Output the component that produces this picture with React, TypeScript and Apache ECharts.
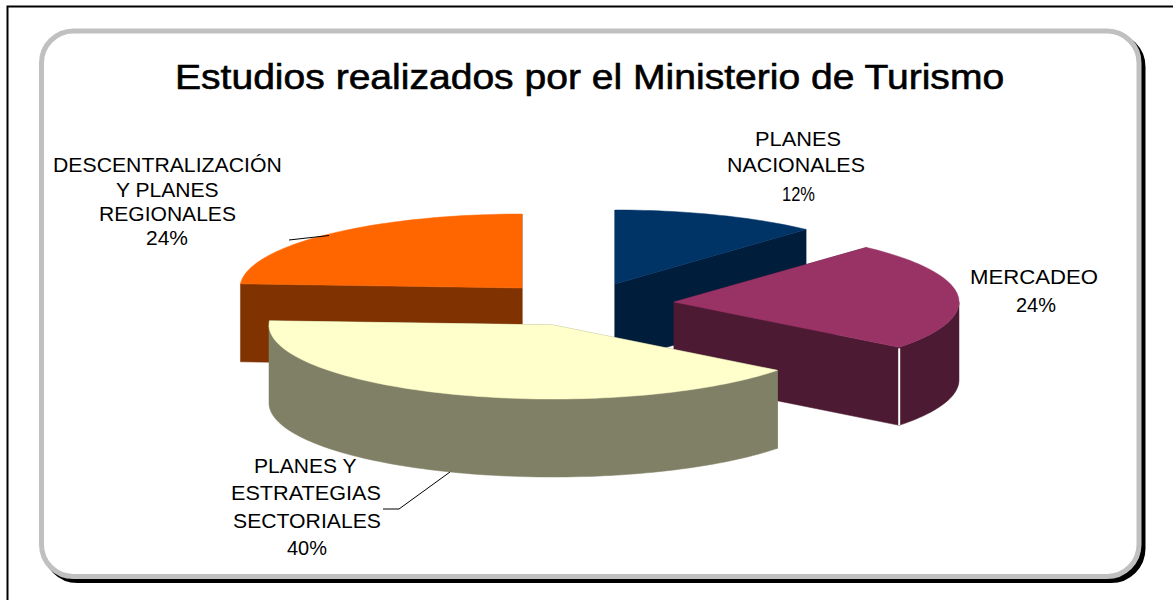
import React, { useEffect, useRef } from "react";
import * as echarts from "echarts";

const TITLE = "Estudios realizados por el Ministerio de Turismo";
const sliceNames = ["PLANES NACIONALES", "MERCADEO", "PLANES Y ESTRATEGIAS SECTORIALES", "DESCENTRALIZACIÓN Y PLANES REGIONALES"];
const sliceValues = [11.8, 23.7, 40.4, 24.1];
const topColors = ["#003366", "#993366", "#FFFFCC", "#FF6600"];
const sideColors = ["#001E3C", "#4D1A33", "#808066", "#803300"];

// exploded centre of each slice, painter's order, ellipse shape
const apexX = [615, 674, 553, 522];
const apexY = [284, 302, 325, 288];
const radiusX = [283, 285, 284, 282];
const RY = 74;
const DEPTH = 78;
const drawOrder = [0, 3, 1, 2];

const FONT = '"Liberation Sans", Arial, sans-serif';

const measurer = document.createElement("canvas").getContext("2d");

function textLine(text: string, left: number, right: number, cy: number, size: number, weight = 0) {
  measurer.font = `${size}px "Liberation Sans"`;
  const w = measurer.measureText(text).width;
  return {
    type: "text",
    x: left,
    y: cy,
    scaleX: (right - left) / w,
    silent: true,
    z: 20,
    style: {
      text,
      fill: "#000",
      stroke: weight ? "#000" : "none",
      lineWidth: weight,
      font: `${size}px ${FONT}`,
      align: "left",
      verticalAlign: "middle",
    },
  };
}

function sliceAngles(i: number) {
  const total = sliceValues.reduce((a, b) => a + b, 0);
  let before = 0;
  for (let k = 0; k < i; k++) before += sliceValues[k];
  return [(before / total) * 360, ((before + sliceValues[i]) / total) * 360];
}

function renderSlice(_params: any, api: any) {
  const i = api.value(0);
  const [a0, a1] = sliceAngles(i);
  const cx = apexX[i], cy = apexY[i], rx = radiusX[i];
  const at = (deg: number, dy = 0) => {
    const r = (deg * Math.PI) / 180;
    return [cx + rx * Math.sin(r), cy - RY * Math.cos(r) + dy];
  };
  const arc = (from: number, to: number, dy = 0) => {
    const pts: number[][] = [];
    const n = Math.max(2, Math.ceil((to - from) / 1.5));
    for (let k = 0; k <= n; k++) pts.push(at(from + ((to - from) * k) / n, dy));
    return pts;
  };
  const side = sideColors[i];
  const poly = (points: number[][], fill: string) => ({
    type: "polygon",
    shape: { points },
    style: { fill, stroke: fill, lineWidth: 0.5 },
  });
  const children: any[] = [];
  const cut = (deg: number) => {
    const p = at(deg);
    children.push(poly([[cx, cy], p, [p[0], p[1] + DEPTH], [cx, cy + DEPTH]], side));
  };
  cut(a0);
  cut(a1);
  const wallFrom = Math.max(a0, 90);
  const wallTo = Math.min(a1, 270);
  if (wallTo > wallFrom) {
    children.push(poly([...arc(wallFrom, wallTo), ...arc(wallFrom, wallTo, DEPTH).reverse()], side));
  }
  children.push(poly([[cx, cy], ...arc(a0, a1)], topColors[i]));
  if (i === 1) {
    const p = at(a1);
    children.push({
      type: "line",
      shape: { x1: p[0], y1: p[1] + 1, x2: p[0], y2: p[1] + DEPTH },
      style: { stroke: "#fff", lineWidth: 2 },
    });
  }
  return { type: "group", children };
}

export default function App() {
  const ref = useRef<HTMLDivElement>(null);
  useEffect(() => {
    const chart = echarts.init(ref.current!, undefined, { renderer: "svg" });
    const pct = sliceValues.map((v) => `${Math.round(v)}%`);
    chart.setOption({
      animation: false,
      backgroundColor: "#fff",
      tooltip: { show: false },
      series: [
        {
          type: "custom",
          coordinateSystem: "none",
          name: TITLE,
          silent: true,
          z: 10,
          renderItem: renderSlice,
          data: drawOrder.map((i) => ({ name: sliceNames[i], value: [i, sliceValues[i]] })),
        },
      ],
      graphic: [
        {
          type: "polyline",
          silent: true,
          z: -5,
          shape: { points: [[7.5, 600], [7.5, 6.5], [1173, 6.5]] },
          style: { stroke: "#000", lineWidth: 2, fill: "none" },
        },
        {
          type: "rect",
          silent: true,
          z: -4,
          shape: { x: 45.5, y: 35, width: 1097.5, height: 545.5, r: 32 },
          style: { fill: "#000", stroke: "#000", lineWidth: 5 },
        },
        {
          type: "rect",
          silent: true,
          z: -3,
          shape: { x: 41.5, y: 31, width: 1097.5, height: 545.5, r: 32 },
          style: { fill: "#fff", stroke: "#C0C0C0", lineWidth: 5 },
        },
        textLine(TITLE, 175, 1005, 77, 35, 0.6),
        textLine("PLANES", 755, 841, 139, 20),
        textLine("NACIONALES", 727, 865, 165, 20),
        textLine(pct[0], 782, 815, 194, 20),
        textLine("MERCADEO", 970, 1098, 277, 20),
        textLine(pct[1], 1016, 1056, 305, 20),
        textLine("PLANES Y", 254, 357, 466, 20),
        textLine("ESTRATEGIAS", 231, 381, 493, 20),
        textLine("SECTORIALES", 233, 381, 521, 20),
        textLine(pct[2], 287, 327, 548, 20),
        textLine("DESCENTRALIZACIÓN", 53, 282, 165, 20),
        textLine("Y PLANES", 116, 219, 190, 20),
        textLine("REGIONALES", 99, 236, 214, 20),
        textLine(pct[3], 146, 188, 238, 20),
        {
          type: "line",
          silent: true,
          z: 20,
          shape: { x1: 289, y1: 240, x2: 329, y2: 235.5 },
          style: { stroke: "#000", lineWidth: 1 },
        },
        {
          type: "polyline",
          silent: true,
          z: 20,
          shape: { points: [[383, 509], [399, 509], [450, 472]] },
          style: { stroke: "#000", lineWidth: 1, fill: "none" },
        },
      ],
    });
    return () => chart.dispose();
  }, []);
  return <div ref={ref} style={{ position: "absolute", left: 0, top: 0, width: 1173, height: 600 }} />;
}
